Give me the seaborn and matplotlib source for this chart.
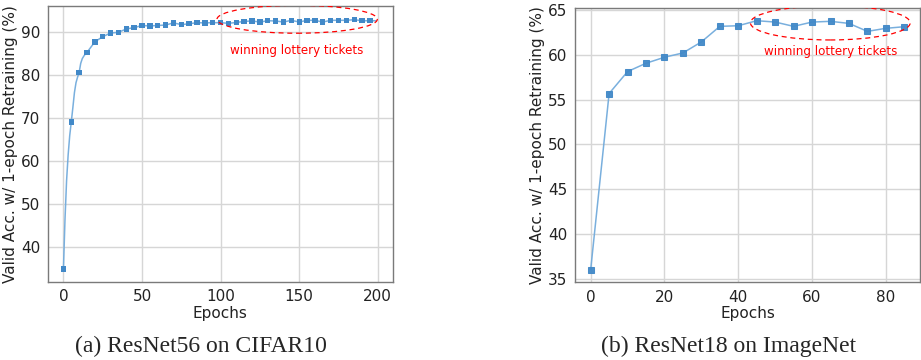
import matplotlib
matplotlib.use("Agg")
import matplotlib.pyplot as plt
import seaborn as sns
import pandas as pd
from matplotlib.patches import Ellipse

# ---- data: ResNet56 on CIFAR10 ----
c10_epochs = [0, 1, 2, 3, 4, 5, 6, 7, 8, 9, 10, 11, 12, 13, 14, 15,
              20, 25, 30, 35, 40, 45, 50, 55, 60, 65, 70, 75, 80, 85, 90, 95,
              100, 105, 110, 115, 120, 125, 130, 135, 140, 145, 150, 155, 160,
              165, 170, 175, 180, 185, 190, 195, 199]
c10_acc = [35.0, 46.5, 55.5, 61.5, 66.0, 69.2, 72.5, 76.0, 78.3, 79.6, 80.7,
           82.8, 83.9, 84.5, 85.0, 85.35,
           87.8, 89.0, 89.85, 90.0, 90.8, 91.1, 91.6, 91.5, 91.6, 91.7, 92.2,
           91.8, 92.0, 92.25, 92.2, 92.25,
           92.25, 92.1, 92.3, 92.55, 92.65, 92.4, 92.7, 92.65, 92.4, 92.8,
           92.4, 92.8, 92.8, 92.4, 92.8, 92.8, 92.8, 92.95, 92.7, 92.7, 92.7]
c10_marker_epochs = [0, 5, 10, 15, 20, 25, 30, 35, 40, 45, 50, 55, 60, 65, 70,
                     75, 80, 85, 90, 95, 100, 105, 110, 115, 120, 125, 130, 135,
                     140, 145, 150, 155, 160, 165, 170, 175, 180, 185, 190, 195]

# ---- data: ResNet18 on ImageNet ----
in_epochs = [0, 5, 10, 15, 20, 25, 30, 35, 40, 45, 50, 55, 60, 65, 70, 75, 80, 85]
in_acc = [36.0, 55.68, 58.13, 59.06, 59.73, 60.21, 61.44, 63.18, 63.25, 63.81,
          63.66, 63.18, 63.66, 63.74, 63.51, 62.62, 62.96, 63.14]

ylabel = "Valid Acc. w/ 1-epoch Retraining (%)"
xlabel = "Epochs"
annot = "winning lottery tickets"
captions = ["(a) ResNet56 on CIFAR10", "(b) ResNet18 on ImageNet"]

sns.set_theme(style="whitegrid")
plt.rcParams["font.family"] = ["DejaVu Sans"]

LINE_C = "#72abdc"
MARK_C = "#4289c8"
GRID_C = "#d6d6d6"
SPINE_C = "#7a7a7a"

fig = plt.figure(figsize=(9.21, 3.6), dpi=100)
ax1 = fig.add_axes([0.0518, 0.2175, 0.3746, 0.7667])
ax2 = fig.add_axes([0.6243, 0.2158, 0.3746, 0.7610])

df1 = pd.DataFrame({"epoch": c10_epochs, "acc": c10_acc})
df1m = df1[df1["epoch"].isin(c10_marker_epochs)]
df2 = pd.DataFrame({"epoch": in_epochs, "acc": in_acc})


def style(ax):
    ax.grid(True, color=GRID_C, linewidth=1.0)
    for s in ax.spines.values():
        s.set_color(SPINE_C)
        s.set_linewidth(1.0)
    ax.tick_params(axis="both", which="both", length=3.5, width=0.8,
                   color=SPINE_C, labelsize=11, pad=2, labelcolor="#222222")
    ax.set_xlabel(xlabel, fontsize=11, labelpad=1, color="#222222")
    ax.set_ylabel(ylabel, fontsize=11, labelpad=2, color="#222222")


sns.lineplot(data=df1, x="epoch", y="acc", ax=ax1, color=LINE_C, linewidth=1.1,
             alpha=0.95)
sns.scatterplot(data=df1m, x="epoch", y="acc", ax=ax1, color=MARK_C, marker="s",
                s=15, edgecolor="none", linewidth=0, zorder=3)
ax1.set_xlim(-10, 209.5)
ax1.set_ylim(32.05, 96.2)
ax1.set_xticks([0, 50, 100, 150, 200])
ax1.set_yticks([40, 50, 60, 70, 80, 90])
style(ax1)
ax1.add_patch(Ellipse((148.7, 93.05), 102, 6.5, fill=False, edgecolor="red",
                      linestyle=(0, (4, 3)), linewidth=0.9, zorder=4))
ax1.text(148.3, 85.7, annot, color="red", fontsize=8.6, ha="center", va="center")

sns.lineplot(data=df2, x="epoch", y="acc", ax=ax2, color=LINE_C, linewidth=1.1,
             alpha=0.95, marker="s", markersize=4.6, markerfacecolor=MARK_C,
             markeredgecolor=MARK_C)
ax2.set_xlim(-4.25, 89.25)
ax2.set_ylim(34.6, 65.19)
ax2.set_xticks([0, 20, 40, 60, 80])
ax2.set_yticks([35, 40, 45, 50, 55, 60, 65])
style(ax2)
ax2.add_patch(Ellipse((64.95, 63.57), 43.3, 3.82, fill=False, edgecolor="red",
                      linestyle=(0, (4, 3)), linewidth=0.9, zorder=4))
ax2.text(65.0, 60.36, annot, color="red", fontsize=8.6, ha="center", va="center")

fig.text(200.5 / 921, 0.039, captions[0], fontsize=17,
         family=["Liberation Serif"], ha="center", va="center")
fig.text(728.8 / 921, 0.039, captions[1], fontsize=17,
         family=["Liberation Serif"], ha="center", va="center")

fig.savefig("out.png", dpi=100)
